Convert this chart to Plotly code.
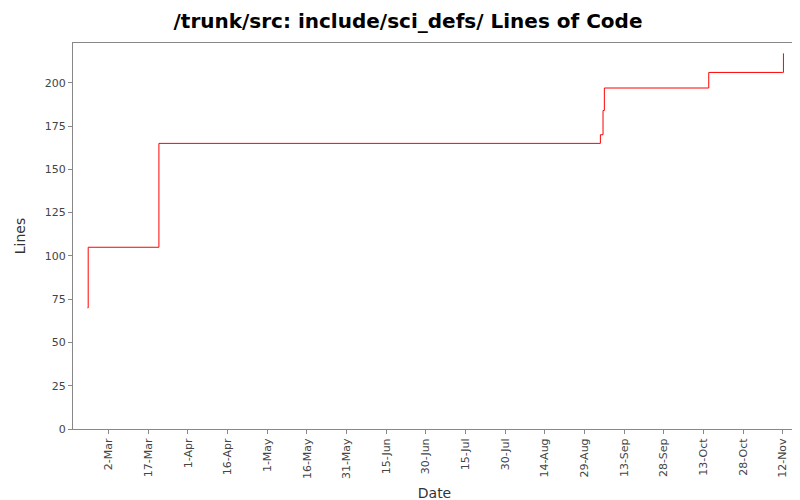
import plotly.graph_objects as go

dates = ["2007-02-22", "2007-02-22 06:00", "2007-03-21", "2007-09-04", "2007-09-05", "2007-09-05 12:00", "2007-10-15", "2007-11-12", "2007-11-12 06:00"]
lines = [70, 105, 165, 170, 184, 197, 206, 206, 217]
tick_dates = ["2007-03-02", "2007-03-17", "2007-04-01", "2007-04-16", "2007-05-01", "2007-05-16", "2007-05-31",
              "2007-06-15", "2007-06-30", "2007-07-15", "2007-07-30", "2007-08-14", "2007-08-29", "2007-09-13",
              "2007-09-28", "2007-10-13", "2007-10-28", "2007-11-12"]
tick_labels = ["2-Mar", "17-Mar", "1-Apr", "16-Apr", "1-May", "16-May", "31-May", "15-Jun", "30-Jun", "15-Jul",
               "30-Jul", "14-Aug", "29-Aug", "13-Sep", "28-Sep", "13-Oct", "28-Oct", "12-Nov"]

fig = go.Figure(go.Scatter(x=dates, y=lines, mode="lines", line=dict(color="red", width=1, shape="hv")))
fig.update_layout(
    width=800, height=500, margin=dict(l=65, r=12, t=35, b=79, autoexpand=False),
    paper_bgcolor="white", plot_bgcolor="white", showlegend=False,
    title=dict(text="<b>/trunk/src: include/sci_defs/ Lines of Code</b>", x=0.5, y=1 - 13 / 500,
               yref="container", yanchor="middle",
               font=dict(family="DejaVu Sans", size=20, color="black")),
    font=dict(family="DejaVu Sans", size=11, color="#444"),
)
fig.update_xaxes(range=["2007-02-16 12:00", "2007-11-17"], tickmode="array", tickvals=tick_dates, ticktext=tick_labels,
                 tickangle=-90, ticks="outside", ticklen=4, tickcolor="#888", showgrid=False, automargin=False,
                 showline=True, linecolor="#888", mirror=True,
                 title=dict(text="Date", standoff=10, font=dict(size=14, color="#333")))
fig.update_yaxes(range=[0, 223], dtick=25, ticks="outside", ticklen=4, tickcolor="#888", showgrid=False, automargin=False,
                 showline=True, linecolor="#888", mirror=True, zeroline=False,
                 title=dict(text="Lines", font=dict(size=14, color="#333")))
fig.write_html("out.html")
